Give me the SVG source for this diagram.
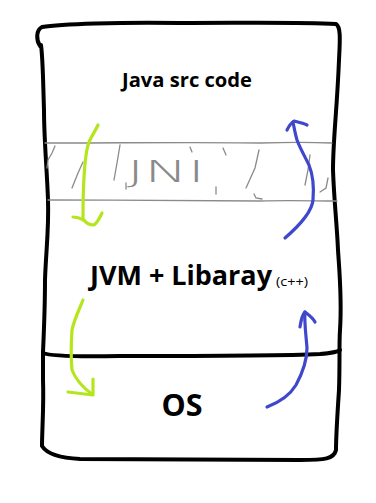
<svg xmlns="http://www.w3.org/2000/svg" width="376" height="503" viewBox="0 0 376 503">
  <style>
    .frame { fill: none; stroke: #000; stroke-width: 4; stroke-linecap: round; stroke-linejoin: round; }
    .band { fill: none; stroke: #8a8a8a; stroke-width: 1.3; stroke-linecap: round; }
    .green { fill: none; stroke: #b5e61d; stroke-width: 3.2; stroke-linecap: round; stroke-linejoin: round; }
    .blue { fill: none; stroke: #3f48cc; stroke-width: 3.2; stroke-linecap: round; stroke-linejoin: round; }
    .lbl { font-family: "Open Sans", "Noto Sans", "Liberation Sans", sans-serif; font-weight: bold; fill: #000; }
  </style>
  <rect width="376" height="503" fill="#fff"/>
  <g id="stack">
    <path class="frame" d="M40,46 C36,40 36,30 42,27 C60,24 120,22 180,23 C250,23 300,22 336,24 C341,27 340,40 339,60 C337,110 333,140 333,170 C334,200 337,225 338,250 C340,280 342,300 340,330 C339,345 340,360 339,390 C337,420 336,440 336,450 C334,459 325,460 300,460 C230,459 150,460 80,459 C60,458 47,454 42,446 C42,430 44,405 43,380 C43,365 43,358 43,352 C44,330 45,300 45,280 C46,250 49,230 48,200 C47,170 44,140 44,110 C43,80 43,60 41,45 Z"/>
    <path class="frame" d="M43,353 C50,356 70,357 120,356 C200,356 280,356 320,354 C332,353 338,352 340,350"/>
  </g>
  <g id="java-src">
    <text class="lbl" x="187" y="87" font-size="20" text-anchor="middle" textLength="130" lengthAdjust="spacingAndGlyphs">Java src code</text>
  </g>
  <g id="jni">
    <path class="band" d="M45,143 C120,143 200,142 260,143 C290,142 310,142 332,143"/>
    <path class="band" d="M48,200 C120,200 200,201 260,201 C290,200 315,201 337,201"/>
    <path class="band" d="M55,146 L52,153 L48,160 L47,168"/>
    <path class="band" d="M83,162 L78,173 L72,188"/>
    <path class="band" d="M120,145 L117,163 L114,180"/>
    <path class="band" d="M126,183 L126,189"/>
    <path class="band" d="M190,147 L192,152"/>
    <path class="band" d="M223,148 L226,155"/>
    <path class="band" d="M216,187 L216,194"/>
    <path class="band" d="M259,150 L255,168 L246,188"/>
    <path class="band" d="M254,194 L256,198 L262,199"/>
    <path class="band" d="M310,155 L308,170 L305,185"/>
    <path class="band" d="M328,178 L326,188 L320,192"/>
    <text x="127" y="182" font-family="DejaVu Sans, sans-serif" font-weight="200" font-size="30" fill="#8a8a8a" textLength="78" lengthAdjust="spacingAndGlyphs">JNI</text>
  </g>
  <g id="jvm">
    <text class="lbl" x="90" y="285" font-size="26" textLength="182" lengthAdjust="spacingAndGlyphs">JVM + Libaray</text>
    <text x="276" y="286" font-family="Open Sans, Noto Sans, sans-serif" font-size="13" fill="#000" textLength="32" lengthAdjust="spacingAndGlyphs">(c++)</text>
  </g>
  <g id="os">
    <text class="lbl" x="182" y="416" font-size="31" text-anchor="middle" textLength="41" lengthAdjust="spacingAndGlyphs">OS</text>
  </g>
  <g id="connectors">
    <path class="green" d="M98,125 C95,132 90,138 88,145 C84,160 83,185 83,220"/>
    <path class="green" d="M73,217 C77,217 80,218 84,220 C86,223 90,225 94,225 C98,222 100,217 102,213"/>
    <path class="green" d="M83,300 C79,310 74,320 72,330 C71,345 71,360 72,370 C76,380 82,387 92,394"/>
    <path class="green" d="M68,392 L93,395 L93,379"/>
    <path class="blue" d="M285,238 C300,225 312,212 313,200 C314,188 313,175 309,165 C304,155 300,148 297,140 C295,133 294,127 293,122"/>
    <path class="blue" d="M287,130 C289,126 291,123 294,121 C298,122 303,123 307,125"/>
    <path class="blue" d="M267,407 C280,402 290,395 296,385 C303,372 307,360 307,348 C306,335 304,320 305,312"/>
    <path class="blue" d="M300,327 C301,320 302,315 305,312 C309,315 313,318 315,322"/>
  </g>
</svg>
